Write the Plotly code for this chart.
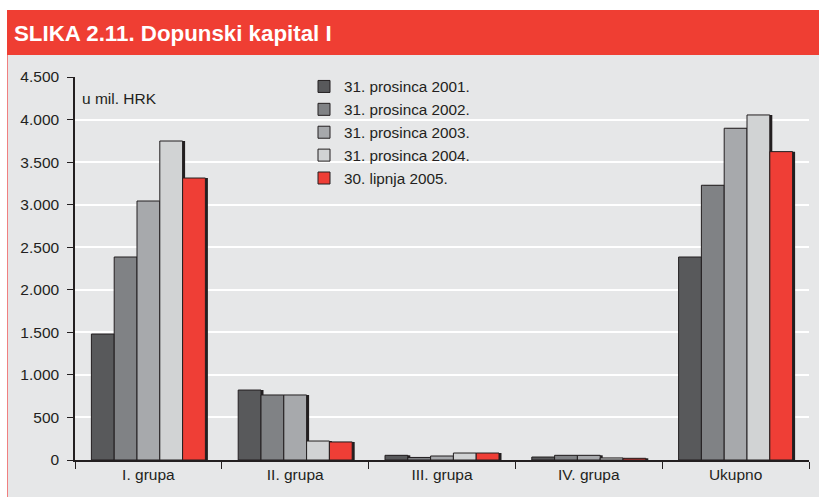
import plotly.graph_objects as go

# Dopunski kapital I, u mil. HRK
grupe = ["I. grupa", "II. grupa", "III. grupa", "IV. grupa", "Ukupno"]
datumi = ["31. prosinca 2001.", "31. prosinca 2002.", "31. prosinca 2003.",
          "31. prosinca 2004.", "30. lipnja 2005."]
v2001 = [1480, 822, 55, 35, 2385]
v2002 = [2385, 764, 30, 55, 3228]
v2003 = [3043, 764, 47, 55, 3898]
v2004 = [3748, 223, 82, 24, 4054]
v2005 = [3313, 212, 82, 20, 3623]
serije = [v2001, v2002, v2003, v2004, v2005]
boje = ["#58595b", "#808285", "#a7a9ac", "#d1d3d4", "#ef3e36"]

W, H = 819, 497
L, R, T, B = 75, 10, 77, 37
pw, ph = W - L - R, H - T - B

bar_w = 0.1553
start = -bar_w * len(serije) / 2
# sjena: ~2.5 px desno i dolje
sh_dx = 2.5 / pw * len(grupe)
sh_dy = 2.5 / ph * 4500

fig = go.Figure()

for i, vals in enumerate(serije):
    fig.add_trace(go.Bar(
        x=grupe, y=[v + sh_dy for v in vals], base=-sh_dy,
        width=bar_w, offset=start + i * bar_w + sh_dx,
        marker=dict(color="#231f20", line=dict(width=0)),
        showlegend=False, hoverinfo="skip", cliponaxis=False))

for i, vals in enumerate(serije):
    fig.add_trace(go.Bar(
        x=grupe, y=vals, name=datumi[i],
        width=bar_w, offset=start + i * bar_w,
        marker=dict(color=boje[i], line=dict(color="#231f20", width=1)),
        cliponaxis=False))


def px_x(p):
    return (p - L) / pw


def px_y(p):
    return (H - B - p) / ph


# pozadina i crveno zaglavlje
fig.add_shape(type="rect", xref="paper", yref="paper", layer="below",
              x0=px_x(7), x1=px_x(820), y0=px_y(498), y1=px_y(55),
              fillcolor="#e6e7e8", line=dict(width=0))
fig.add_shape(type="rect", xref="paper", yref="paper", layer="below",
              x0=px_x(7), x1=px_x(820), y0=px_y(55), y1=px_y(10),
              fillcolor="#ef3e33", line=dict(width=0))
fig.add_shape(type="line", xref="paper", yref="paper", layer="below",
              x0=px_x(7.5), x1=px_x(7.5), y0=px_y(498), y1=px_y(55),
              line=dict(color="#f08080", width=1))

fig.add_annotation(text="u mil. HRK", xref="paper", yref="paper",
                   x=px_x(80), y=px_y(98), xanchor="left", yanchor="middle",
                   showarrow=False, font=dict(size=15.5, color="#231f20"))

fig.update_layout(
    width=W, height=H,
    margin=dict(l=L, r=R, t=T, b=B),
    paper_bgcolor="white", plot_bgcolor="rgba(0,0,0,0)",
    barmode="overlay",
    separators=",.",
    font=dict(family="Liberation Sans, Arial, sans-serif", size=15.5, color="#231f20"),
    title=dict(text="SLIKA 2.11. Dopunski kapital I", xref="container", yref="container",
               x=14 / W, y=1 - 33 / H, xanchor="left", yanchor="middle",
               font=dict(size=22.3, color="white", weight="bold")),
    legend=dict(x=px_x(304), y=px_y(70), xanchor="left", yanchor="top",
                bgcolor="rgba(0,0,0,0)", font=dict(size=15.3, color="#231f20"),
                tracegroupgap=0),
    showlegend=True,
)

fig.update_xaxes(showline=True, linecolor="#231f20", linewidth=1.5,
                 ticks="outside", tickson="boundaries", ticklen=7,
                 tickcolor="#231f20", tickwidth=1, showgrid=False)
fig.update_yaxes(range=[0, 4500], dtick=500, tickformat=",d",
                 showline=True, linecolor="#231f20", linewidth=1.5,
                 ticks="outside", ticklen=6, tickcolor="#231f20", tickwidth=1,
                 showgrid=True, gridcolor="white", gridwidth=1.5,
                 zeroline=False, ticklabelstandoff=5)

fig.write_html("out.html", config={"displayModeBar": False},
               post_script="document.body.style.margin='0';")
